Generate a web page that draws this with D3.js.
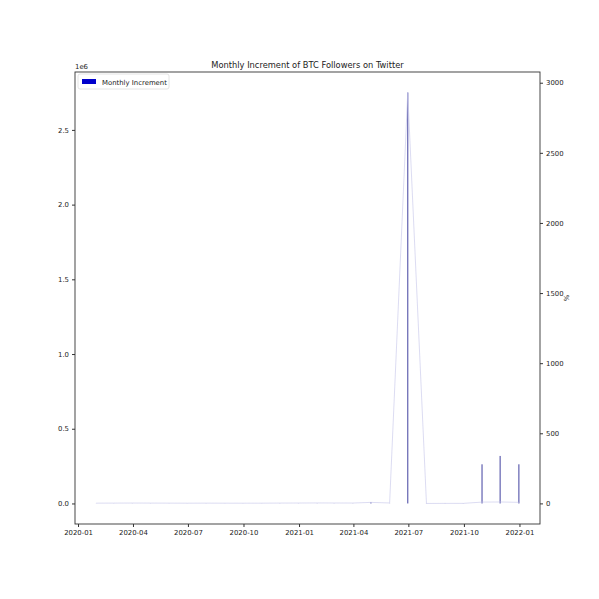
<!DOCTYPE html>
<html>
<head>
<meta charset="utf-8">
<script src="https://cdn.jsdelivr.net/npm/d3@7"></script>
<style>
  body { margin: 0; background: #fff; }
  text { font-family: "DejaVu Sans", sans-serif; fill: #222; }
</style>
</head>
<body>
<div id="chart"></div>
<script>
// monthly data (month-end dates)
const months = ["2020-01-31","2020-02-29","2020-03-31","2020-04-30","2020-05-31","2020-06-30",
  "2020-07-31","2020-08-31","2020-09-30","2020-10-31","2020-11-30","2020-12-31",
  "2021-01-31","2021-02-28","2021-03-31","2021-04-30","2021-05-31","2021-06-30",
  "2021-07-31","2021-08-31","2021-09-30","2021-10-31","2021-11-30","2021-12-31"];
const increments = [400, 500, 700, 600, 500, 450, 550, 500, 450, 500, 700, 800,
  900, 850, 800, 8000, 900, 2750000, -900, 800, 900, 262000, 318000, 262000];
const percents = [1.8, 2.1, 2.6, 2.2, 1.9, 1.6, 1.9, 1.6, 1.4, 1.7, 2.3, 2.7,
  3.2, 2.9, 2.6, 7.3, 3.0, 2930, -0.4, 0.1, 0.2, 9.2, 10.1, 7.6];
const leftTicks = [0, 0.5e6, 1.0e6, 1.5e6, 2.0e6, 2.5e6];
const rightTicks = [0, 500, 1000, 1500, 2000, 2500, 3000];
const xTicks = ["2020-01-01","2020-04-01","2020-07-01","2020-10-01","2021-01-01",
  "2021-04-01","2021-07-01","2021-10-01","2022-01-01"];

const W = 599, H = 599;
const margin = { top: 72, right: 59, bottom: 75, left: 75 };
const parse = d3.timeParse("%Y-%m-%d");
const data = months.map((m, i) => ({ date: parse(m), inc: increments[i], pct: percents[i] }));

const svg = d3.select("#chart").append("svg").attr("width", W).attr("height", H);
svg.append("rect").attr("width", W).attr("height", H).attr("fill", "#fff");

// matplotlib style 5% padding on each scale
function pad(ext) { const d = (ext[1] - ext[0]) * 0.05; return [ext[0] - d, ext[1] + d]; }
const dExt = d3.extent(data, d => d.date);
const dPad = (dExt[1] - dExt[0]) * 0.05;
const x = d3.scaleTime()
  .domain([new Date(+dExt[0] - dPad), new Date(+dExt[1] + dPad)])
  .range([margin.left, W - margin.right]);
const yL = d3.scaleLinear()
  .domain(pad([0, d3.max(increments)]))
  .range([H - margin.bottom, margin.top]);
const yR = d3.scaleLinear()
  .domain(pad(d3.extent(percents)))
  .range([H - margin.bottom, margin.top]);

// bars
svg.append("g").selectAll("rect").data(data).join("rect")
  .attr("x", d => x(d.date) - 0.6)
  .attr("width", 1.2)
  .attr("y", d => Math.min(yL(d.inc), yL(0)))
  .attr("height", d => Math.abs(yL(d.inc) - yL(0)))
  .attr("fill", "#3a3a9c")
  .attr("opacity", 0.8);

// percent line (right axis)
svg.append("path").datum(data)
  .attr("d", d3.line().x(d => x(d.date)).y(d => yR(d.pct)))
  .attr("fill", "none")
  .attr("stroke", "#c4c4ea")
  .attr("stroke-opacity", 0.6)
  .attr("stroke-width", 1);

// axes
const fs = 6.9;
const xAxis = svg.append("g")
  .attr("transform", `translate(0,${H - margin.bottom})`)
  .call(d3.axisBottom(x).tickValues(xTicks.map(parse)).tickFormat(d3.timeFormat("%Y-%m")).tickSizeOuter(0).tickSize(3));
const lAxis = svg.append("g")
  .attr("transform", `translate(${margin.left},0)`)
  .call(d3.axisLeft(yL).tickValues(leftTicks).tickFormat(d => (d / 1e6).toFixed(1)).tickSizeOuter(0).tickSize(3));
const rAxis = svg.append("g")
  .attr("transform", `translate(${W - margin.right},0)`)
  .call(d3.axisRight(yR).tickValues(rightTicks).tickFormat(d3.format("d")).tickSizeOuter(0).tickSize(3));
[xAxis, lAxis, rAxis].forEach(g => {
  g.select(".domain").remove();
  g.selectAll("line").attr("stroke", "#333");
  g.selectAll("text").attr("font-size", fs).attr("fill", "#222");
});

// frame
svg.append("rect")
  .attr("x", margin.left).attr("y", margin.top)
  .attr("width", W - margin.left - margin.right)
  .attr("height", H - margin.top - margin.bottom)
  .attr("fill", "none").attr("stroke", "#333").attr("stroke-width", 0.9);

// offset text and labels
svg.append("text").attr("x", margin.left).attr("y", margin.top - 3)
  .attr("font-size", fs).text("1e6");
svg.append("text")
  .attr("transform", `translate(${W - 30},${(margin.top + H - margin.bottom) / 2}) rotate(-90)`)
  .attr("text-anchor", "middle").attr("font-size", fs).text("%");
svg.append("text")
  .attr("x", (margin.left + W - margin.right) / 2).attr("y", margin.top - 4)
  .attr("text-anchor", "middle").attr("font-size", 8.3)
  .text("Monthly Increment of BTC Followers on Twitter");

// legend
const lg = svg.append("g").attr("transform", `translate(${margin.left + 3},${margin.top + 2})`);
lg.append("rect").attr("width", 91).attr("height", 15).attr("rx", 2)
  .attr("fill", "#fff").attr("stroke", "#ddd").attr("stroke-width", 0.8);
lg.append("rect").attr("x", 4).attr("y", 5).attr("width", 14).attr("height", 5).attr("fill", "#0000cc");
lg.append("text").attr("x", 24).attr("y", 10.5).attr("font-size", fs).text("Monthly Increment");
</script>
</body>
</html>
